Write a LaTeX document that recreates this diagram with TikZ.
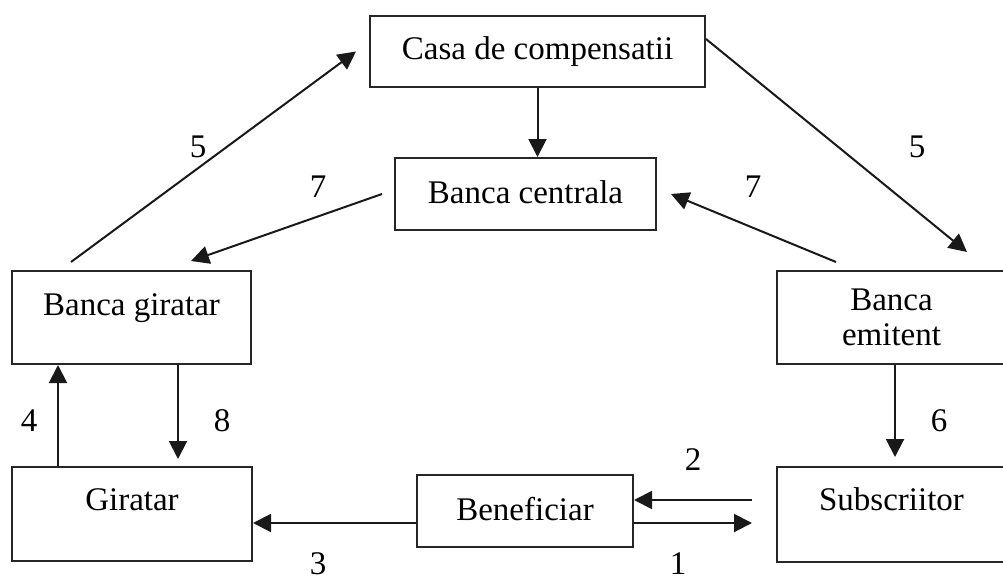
\documentclass[tikz,border=0pt]{standalone}
\usepackage{fontspec}
\setmainfont{Liberation Serif}
\usetikzlibrary{arrows.meta,positioning}
\tikzstyle{recNode} = [rectangle, draw=black!85, line width=2pt, inner sep=0pt, text centered, font=\fontsize{33}{35}\selectfont]
\tikzstyle{numNode} = [inner sep=0pt, font=\fontsize{33}{35}\selectfont]
\tikzstyle{arrow} = [line width=2pt, -{Triangle[length=18pt,width=18pt]}, draw=black!90]

\begin{document}
\begin{tikzpicture}[x=1pt,y=-1pt]
        \useasboundingbox (0,0) rectangle (1003,583);

        \node (casa) [recNode, minimum width=335pt, text height=44pt, text depth=27pt] at (537.5,51.5) {Casa de compensatii};
        \node (bc) [recNode, minimum width=261pt, text height=45pt, text depth=27pt] at (525.5,194) {Banca centrala};
        \node (bgir) [recNode, minimum width=239pt, text height=44pt, text depth=49pt] at (131.5,317.5) {Banca giratar};
        \node (bem) [recNode, minimum width=229pt, minimum height=93pt, align=center] at (891.5,317.5) {Banca\\emitent};
        \node (gir) [recNode, minimum width=240pt, text height=43pt, text depth=51pt] at (132,514) {Giratar};
        \node (sub) [recNode, minimum width=229pt, text height=43pt, text depth=52pt] at (891.5,514.5) {Subscriitor};
        \node (ben) [recNode, minimum width=216pt, text height=45pt, text depth=27pt] at (525,511) {Beneficiar};

        \draw [arrow] (casa.south) -- (casa.south |- bc.north);
        \draw [arrow] ([xshift=60pt,yshift=8pt]bgir.north west) -- ([xshift=-13pt]casa.west);
        \draw [arrow] ([yshift=-24pt]casa.north east) -- ([xshift=191pt,yshift=18pt]bem.north west);
        \draw [arrow] ([xshift=-12pt]bc.west) -- ([xshift=180pt,yshift=9pt]bgir.north west);
        \draw [arrow] ([xshift=60pt,yshift=8pt]bem.north west) -- ([xshift=14pt]bc.east);
        \draw [arrow] ([xshift=47pt]gir.north west) -- ([xshift=47pt]bgir.south west);
        \draw [arrow] ([xshift=167pt]bgir.south west) -- ([xshift=167pt,yshift=7pt]gir.north west);
        \draw [arrow] ([xshift=119pt]bem.south west) -- ([xshift=119pt,yshift=9pt]sub.north west);
        \draw [arrow] ([yshift=-12pt]ben.west) -- ([yshift=-12pt]ben.west -| gir.east);
        \draw [arrow, shorten <=24pt] ([yshift=11pt]ben.east -| sub.west) -- ([yshift=11pt]ben.east);
        \draw [arrow, shorten >=24pt] ([yshift=-12pt]ben.east) -- ([yshift=-12pt]ben.east -| sub.west);

        \node (n5a) [numNode] at (198,147) {5};
        \node (n7a) [numNode] at (318,187) {7};
        \node (n5b) [numNode] at (917,147) {5};
        \node (n7b) [numNode] at (753,187) {7};
        \node (n4) [numNode] at (29,421) {4};
        \node (n8) [numNode] at (222,421) {8};
        \node (n6) [numNode] at (939,421) {6};
        \node (n2) [numNode] at (693,460) {2};
        \node (n1) [numNode] at (678,564) {1};
        \node (n3) [numNode] at (318,564) {3};

    \end{tikzpicture}
\end{document}
